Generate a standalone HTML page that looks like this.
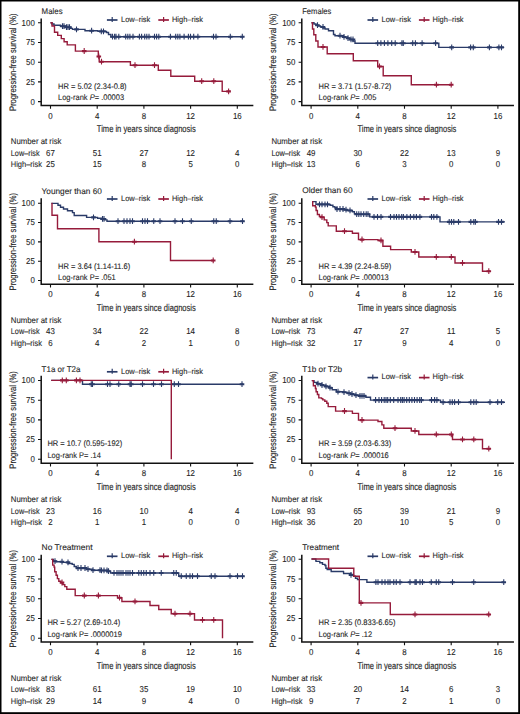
<!DOCTYPE html>
<html><head><meta charset="utf-8"><style>
html,body{margin:0;padding:0;background:#fff;}
body{width:520px;height:714px;overflow:hidden;font-family:"Liberation Sans",sans-serif;}
svg{display:block;}
</style></head><body>
<svg width="520" height="714" viewBox="0 0 520 714">
<rect x="0" y="0" width="520" height="714" fill="#000"/>
<rect x="1.5" y="1.5" width="516.7" height="710.7" fill="#fff"/>
<g font-family="Liberation Sans, sans-serif" fill="#262626" stroke="#262626" stroke-width="0.1" text-rendering="geometricPrecision">
<g><text x="41.60" y="13.80" font-size="8.3" textLength="21.0" lengthAdjust="spacingAndGlyphs">Males</text><path d="M106.90,20.00 h10.6" stroke="#2a3b68" stroke-width="1.7" fill="none"/><path d="M112.20,17.00 v5" stroke="#2a3b68" stroke-width="1.2" fill="none"/><text x="121.00" y="21.70" font-size="7.8" textLength="29.3" lengthAdjust="spacingAndGlyphs">Low–risk</text><path d="M158.30,20.00 h10.6" stroke="#961b3b" stroke-width="1.7" fill="none"/><path d="M163.60,17.00 v5" stroke="#961b3b" stroke-width="1.2" fill="none"/><text x="172.00" y="21.70" font-size="7.8" textLength="31.0" lengthAdjust="spacingAndGlyphs">High–risk</text><path d="M41.20,19.20 V105.50 H252.60" stroke="#111" stroke-width="1.5" fill="none" stroke-linejoin="miter" stroke-linecap="square"/><text x="34.80" y="104.50" font-size="8.6" text-anchor="end" textLength="4.39" lengthAdjust="spacingAndGlyphs">0</text><text x="34.80" y="84.80" font-size="8.6" text-anchor="end" textLength="8.79" lengthAdjust="spacingAndGlyphs">25</text><text x="34.80" y="65.10" font-size="8.6" text-anchor="end" textLength="8.79" lengthAdjust="spacingAndGlyphs">50</text><text x="34.80" y="45.40" font-size="8.6" text-anchor="end" textLength="8.79" lengthAdjust="spacingAndGlyphs">75</text><text x="34.80" y="25.70" font-size="8.6" text-anchor="end" textLength="13.18" lengthAdjust="spacingAndGlyphs">100</text><text x="50.50" y="118.70" font-size="8.6" text-anchor="middle" textLength="4.39" lengthAdjust="spacingAndGlyphs">0</text><text x="97.20" y="118.70" font-size="8.6" text-anchor="middle" textLength="4.39" lengthAdjust="spacingAndGlyphs">4</text><text x="143.90" y="118.70" font-size="8.6" text-anchor="middle" textLength="4.39" lengthAdjust="spacingAndGlyphs">8</text><text x="190.60" y="118.70" font-size="8.6" text-anchor="middle" textLength="8.79" lengthAdjust="spacingAndGlyphs">12</text><text x="237.30" y="118.70" font-size="8.6" text-anchor="middle" textLength="8.79" lengthAdjust="spacingAndGlyphs">16</text><path d="M38.00,101.60 H41.20 M38.00,81.90 H41.20 M38.00,62.20 H41.20 M38.00,42.50 H41.20 M38.00,22.80 H41.20 M50.50,105.50 V108.70 M97.20,105.50 V108.70 M143.90,105.50 V108.70 M190.60,105.50 V108.70 M237.30,105.50 V108.70" stroke="#111" stroke-width="1.1" fill="none"/><text transform="translate(15.60,62.35) rotate(-90)" x="0" y="0" font-size="9.4" stroke-width="0.15" text-anchor="middle" textLength="97.5" lengthAdjust="spacingAndGlyphs">Progression-free survival (%)</text><text x="146.30" y="132.40" font-size="9.8" text-anchor="middle" textLength="99.0" lengthAdjust="spacingAndGlyphs" stroke-width="0.15">Time in years since diagnosis</text><text x="58.00" y="89.20" font-size="8.1" textLength="68.57" lengthAdjust="spacingAndGlyphs">HR = 5.02 (2.34-0.8)</text><text x="58.00" y="100.20" font-size="8.1" textLength="66.09" lengthAdjust="spacingAndGlyphs">Log-rank <tspan font-style="italic">P</tspan>= .00003</text><text x="10.80" y="144.20" font-size="8.3" textLength="50.7" lengthAdjust="spacingAndGlyphs">Number at risk</text><text x="10.80" y="156.00" font-size="8.3" textLength="28.8" lengthAdjust="spacingAndGlyphs">Low–risk</text><text x="10.80" y="167.30" font-size="8.3" textLength="31.1" lengthAdjust="spacingAndGlyphs">High–risk</text><text x="50.50" y="156.00" font-size="8.6" text-anchor="middle" textLength="8.79" lengthAdjust="spacingAndGlyphs">67</text><text x="50.50" y="167.30" font-size="8.6" text-anchor="middle" textLength="8.79" lengthAdjust="spacingAndGlyphs">25</text><text x="97.20" y="156.00" font-size="8.6" text-anchor="middle" textLength="8.79" lengthAdjust="spacingAndGlyphs">51</text><text x="97.20" y="167.30" font-size="8.6" text-anchor="middle" textLength="8.79" lengthAdjust="spacingAndGlyphs">15</text><text x="143.90" y="156.00" font-size="8.6" text-anchor="middle" textLength="8.79" lengthAdjust="spacingAndGlyphs">27</text><text x="143.90" y="167.30" font-size="8.6" text-anchor="middle" textLength="4.39" lengthAdjust="spacingAndGlyphs">8</text><text x="190.60" y="156.00" font-size="8.6" text-anchor="middle" textLength="8.79" lengthAdjust="spacingAndGlyphs">12</text><text x="190.60" y="167.30" font-size="8.6" text-anchor="middle" textLength="4.39" lengthAdjust="spacingAndGlyphs">5</text><text x="237.30" y="156.00" font-size="8.6" text-anchor="middle" textLength="4.39" lengthAdjust="spacingAndGlyphs">4</text><text x="237.30" y="167.30" font-size="8.6" text-anchor="middle" textLength="4.39" lengthAdjust="spacingAndGlyphs">0</text><path d="M50.5,22.8 H52 V24 H54 V25.3 H60.5 V26.2 H65.5 V27.2 H70.5 V28.4 H72.5 V29.4 H85 V30.7 H98 V31.4 H106.5 V32.5 H108.5 V34.5 H110.9 V36.8 H243.4" stroke="#2a3b68" stroke-width="1.4" fill="none" stroke-linejoin="miter"/><path d="M62.50,23.20 v5.8 M64.00,23.20 v5.8 M66.50,24.20 v5.8 M68.00,24.20 v5.8 M69.50,24.20 v5.8 M76.50,26.40 v5.8 M91.60,27.70 v5.8 M101.30,28.40 v5.8 M103.50,28.40 v5.8 M112.50,33.80 v5.8 M114.60,33.80 v5.8 M116.00,33.80 v5.8 M118.80,33.80 v5.8 M125.70,33.80 v5.8 M127.80,33.80 v5.8 M129.90,33.80 v5.8 M133.00,33.80 v5.8 M139.40,33.80 v5.8 M141.60,33.80 v5.8 M144.70,33.80 v5.8 M146.80,33.80 v5.8 M149.00,33.80 v5.8 M154.50,33.80 v5.8 M156.60,33.80 v5.8 M158.80,33.80 v5.8 M170.40,33.80 v5.8 M175.70,33.80 v5.8 M177.80,33.80 v5.8 M179.90,33.80 v5.8 M184.10,33.80 v5.8 M188.40,33.80 v5.8 M190.50,33.80 v5.8 M193.70,33.80 v5.8 M197.90,33.80 v5.8 M213.50,33.80 v5.8 M216.00,33.80 v5.8 M230.30,33.80 v5.8 M242.30,33.80 v5.8" stroke="#2a3b68" stroke-width="1.1" fill="none"/><path d="M60.20,26.20 h4.6 M61.70,26.20 h4.6 M64.20,27.20 h4.6 M65.70,27.20 h4.6 M67.20,27.20 h4.6 M74.20,29.40 h4.6 M89.30,30.70 h4.6 M99.00,31.40 h4.6 M101.20,31.40 h4.6 M110.20,36.80 h4.6 M112.30,36.80 h4.6 M113.70,36.80 h4.6 M116.50,36.80 h4.6 M123.40,36.80 h4.6 M125.50,36.80 h4.6 M127.60,36.80 h4.6 M130.70,36.80 h4.6 M137.10,36.80 h4.6 M139.30,36.80 h4.6 M142.40,36.80 h4.6 M144.50,36.80 h4.6 M146.70,36.80 h4.6 M152.20,36.80 h4.6 M154.30,36.80 h4.6 M156.50,36.80 h4.6 M168.10,36.80 h4.6 M173.40,36.80 h4.6 M175.50,36.80 h4.6 M177.60,36.80 h4.6 M181.80,36.80 h4.6 M186.10,36.80 h4.6 M188.20,36.80 h4.6 M191.40,36.80 h4.6 M195.60,36.80 h4.6 M211.20,36.80 h4.6 M213.70,36.80 h4.6 M228.00,36.80 h4.6 M240.00,36.80 h4.6" stroke="#2a3b68" stroke-width="2.1" fill="none"/><path d="M50.5,22.8 H52 V26 H54.5 V32.3 H57.7 V35.4 H61.3 V38.6 H64.1 V41.8 H67.2 V44.9 H75.4 V51.1 H98.3 V56.5 H99.2 V61.7 H130.4 V65.2 H158.3 V70.2 H170.8 V76.2 H194.7 V81.2 H222.2 V91.4 H229.6" stroke="#961b3b" stroke-width="1.4" fill="none" stroke-linejoin="miter"/><path d="M84.20,48.10 v5.8 M98.80,53.50 v5.8 M101.50,58.70 v5.8 M135.00,62.20 v5.8 M154.50,62.20 v5.8 M201.70,78.20 v5.8 M213.80,78.20 v5.8 M228.60,88.40 v5.8" stroke="#961b3b" stroke-width="1.1" fill="none"/><path d="M81.90,51.10 h4.6 M96.50,56.50 h4.6 M99.20,61.70 h4.6 M132.70,65.20 h4.6 M152.20,65.20 h4.6 M199.40,81.20 h4.6 M211.50,81.20 h4.6 M226.30,91.40 h4.6" stroke="#961b3b" stroke-width="2.1" fill="none"/></g>
<g><text x="302.20" y="13.80" font-size="8.3" textLength="29.2" lengthAdjust="spacingAndGlyphs">Females</text><path d="M367.50,20.00 h10.6" stroke="#2a3b68" stroke-width="1.7" fill="none"/><path d="M372.80,17.00 v5" stroke="#2a3b68" stroke-width="1.2" fill="none"/><text x="381.60" y="21.70" font-size="7.8" textLength="29.3" lengthAdjust="spacingAndGlyphs">Low–risk</text><path d="M418.90,20.00 h10.6" stroke="#961b3b" stroke-width="1.7" fill="none"/><path d="M424.20,17.00 v5" stroke="#961b3b" stroke-width="1.2" fill="none"/><text x="432.60" y="21.70" font-size="7.8" textLength="31.0" lengthAdjust="spacingAndGlyphs">High–risk</text><path d="M301.80,19.20 V105.50 H513.20" stroke="#111" stroke-width="1.5" fill="none" stroke-linejoin="miter" stroke-linecap="square"/><text x="295.40" y="104.50" font-size="8.6" text-anchor="end" textLength="4.39" lengthAdjust="spacingAndGlyphs">0</text><text x="295.40" y="84.80" font-size="8.6" text-anchor="end" textLength="8.79" lengthAdjust="spacingAndGlyphs">25</text><text x="295.40" y="65.10" font-size="8.6" text-anchor="end" textLength="8.79" lengthAdjust="spacingAndGlyphs">50</text><text x="295.40" y="45.40" font-size="8.6" text-anchor="end" textLength="8.79" lengthAdjust="spacingAndGlyphs">75</text><text x="295.40" y="25.70" font-size="8.6" text-anchor="end" textLength="13.18" lengthAdjust="spacingAndGlyphs">100</text><text x="311.10" y="118.70" font-size="8.6" text-anchor="middle" textLength="4.39" lengthAdjust="spacingAndGlyphs">0</text><text x="357.80" y="118.70" font-size="8.6" text-anchor="middle" textLength="4.39" lengthAdjust="spacingAndGlyphs">4</text><text x="404.50" y="118.70" font-size="8.6" text-anchor="middle" textLength="4.39" lengthAdjust="spacingAndGlyphs">8</text><text x="451.20" y="118.70" font-size="8.6" text-anchor="middle" textLength="8.79" lengthAdjust="spacingAndGlyphs">12</text><text x="497.90" y="118.70" font-size="8.6" text-anchor="middle" textLength="8.79" lengthAdjust="spacingAndGlyphs">16</text><path d="M298.60,101.60 H301.80 M298.60,81.90 H301.80 M298.60,62.20 H301.80 M298.60,42.50 H301.80 M298.60,22.80 H301.80 M311.10,105.50 V108.70 M357.80,105.50 V108.70 M404.50,105.50 V108.70 M451.20,105.50 V108.70 M497.90,105.50 V108.70" stroke="#111" stroke-width="1.1" fill="none"/><text transform="translate(276.20,62.35) rotate(-90)" x="0" y="0" font-size="9.4" stroke-width="0.15" text-anchor="middle" textLength="97.5" lengthAdjust="spacingAndGlyphs">Progression-free survival (%)</text><text x="406.90" y="132.40" font-size="9.8" text-anchor="middle" textLength="99.0" lengthAdjust="spacingAndGlyphs" stroke-width="0.15">Time in years since diagnosis</text><text x="318.60" y="89.20" font-size="8.1" textLength="72.74" lengthAdjust="spacingAndGlyphs">HR = 3.71 (1.57-8.72)</text><text x="318.60" y="100.20" font-size="8.1" textLength="57.74" lengthAdjust="spacingAndGlyphs">Log-rank <tspan font-style="italic">P</tspan>= .005</text><text x="271.40" y="144.20" font-size="8.3" textLength="50.7" lengthAdjust="spacingAndGlyphs">Number at risk</text><text x="271.40" y="156.00" font-size="8.3" textLength="28.8" lengthAdjust="spacingAndGlyphs">Low–risk</text><text x="271.40" y="167.30" font-size="8.3" textLength="31.1" lengthAdjust="spacingAndGlyphs">High–risk</text><text x="311.10" y="156.00" font-size="8.6" text-anchor="middle" textLength="8.79" lengthAdjust="spacingAndGlyphs">49</text><text x="311.10" y="167.30" font-size="8.6" text-anchor="middle" textLength="8.79" lengthAdjust="spacingAndGlyphs">13</text><text x="357.80" y="156.00" font-size="8.6" text-anchor="middle" textLength="8.79" lengthAdjust="spacingAndGlyphs">30</text><text x="357.80" y="167.30" font-size="8.6" text-anchor="middle" textLength="4.39" lengthAdjust="spacingAndGlyphs">6</text><text x="404.50" y="156.00" font-size="8.6" text-anchor="middle" textLength="8.79" lengthAdjust="spacingAndGlyphs">22</text><text x="404.50" y="167.30" font-size="8.6" text-anchor="middle" textLength="4.39" lengthAdjust="spacingAndGlyphs">3</text><text x="451.20" y="156.00" font-size="8.6" text-anchor="middle" textLength="8.79" lengthAdjust="spacingAndGlyphs">13</text><text x="451.20" y="167.30" font-size="8.6" text-anchor="middle" textLength="4.39" lengthAdjust="spacingAndGlyphs">0</text><text x="497.90" y="156.00" font-size="8.6" text-anchor="middle" textLength="4.39" lengthAdjust="spacingAndGlyphs">9</text><text x="497.90" y="167.30" font-size="8.6" text-anchor="middle" textLength="4.39" lengthAdjust="spacingAndGlyphs">0</text><path d="M311.5,22.7 H314 V24 H316 V25.2 H318 V26 H320.5 V27 H323 V28 H325 V29 H328.5 V30.8 H333.5 V34.5 H335 V35.8 H343.5 V37 H347.5 V38.2 H350 V39.5 H353 V41 H355 V43.2 H438.8 V47.4 H504.2" stroke="#2a3b68" stroke-width="1.4" fill="none" stroke-linejoin="miter"/><path d="M317.50,22.20 v5.8 M323.00,24.00 v5.8 M340.00,32.80 v5.8 M344.00,34.00 v5.8 M348.00,35.20 v5.8 M351.00,36.50 v5.8 M353.00,36.50 v5.8 M377.70,40.20 v5.8 M380.90,40.20 v5.8 M384.40,40.20 v5.8 M387.90,40.20 v5.8 M391.70,40.20 v5.8 M395.20,40.20 v5.8 M401.90,40.20 v5.8 M403.30,40.20 v5.8 M412.70,40.20 v5.8 M415.40,40.20 v5.8 M422.10,40.20 v5.8 M435.60,40.20 v5.8 M451.70,44.40 v5.8 M470.60,44.40 v5.8 M473.30,44.40 v5.8 M489.40,44.40 v5.8 M498.90,44.40 v5.8 M501.50,44.40 v5.8" stroke="#2a3b68" stroke-width="1.1" fill="none"/><path d="M315.20,25.20 h4.6 M320.70,27.00 h4.6 M337.70,35.80 h4.6 M341.70,37.00 h4.6 M345.70,38.20 h4.6 M348.70,39.50 h4.6 M350.70,39.50 h4.6 M375.40,43.20 h4.6 M378.60,43.20 h4.6 M382.10,43.20 h4.6 M385.60,43.20 h4.6 M389.40,43.20 h4.6 M392.90,43.20 h4.6 M399.60,43.20 h4.6 M401.00,43.20 h4.6 M410.40,43.20 h4.6 M413.10,43.20 h4.6 M419.80,43.20 h4.6 M433.30,43.20 h4.6 M449.40,47.40 h4.6 M468.30,47.40 h4.6 M471.00,47.40 h4.6 M487.10,47.40 h4.6 M496.60,47.40 h4.6 M499.20,47.40 h4.6" stroke="#2a3b68" stroke-width="2.1" fill="none"/><path d="M311.5,22.7 H312.5 V29 H313.8 V34.8 H315.8 V41 H318 V47 H327.2 V53.8 H353.3 V60.8 H377.7 V66.5 H383.2 V75.8 H411.3 V84.7 H451.7" stroke="#961b3b" stroke-width="1.4" fill="none" stroke-linejoin="miter"/><path d="M323.00,44.00 v5.8 M379.50,63.50 v5.8 M436.40,81.70 v5.8 M451.20,81.70 v5.8" stroke="#961b3b" stroke-width="1.1" fill="none"/><path d="M320.70,47.00 h4.6 M377.20,66.50 h4.6 M434.10,84.70 h4.6 M448.90,84.70 h4.6" stroke="#961b3b" stroke-width="2.1" fill="none"/></g>
<g><text x="41.60" y="193.60" font-size="8.3" textLength="60.2" lengthAdjust="spacingAndGlyphs">Younger than 60</text><path d="M106.90,199.00 h10.6" stroke="#2a3b68" stroke-width="1.7" fill="none"/><path d="M112.20,196.00 v5" stroke="#2a3b68" stroke-width="1.2" fill="none"/><text x="121.00" y="200.70" font-size="7.8" textLength="29.3" lengthAdjust="spacingAndGlyphs">Low–risk</text><path d="M158.30,199.00 h10.6" stroke="#961b3b" stroke-width="1.7" fill="none"/><path d="M163.60,196.00 v5" stroke="#961b3b" stroke-width="1.2" fill="none"/><text x="172.00" y="200.70" font-size="7.8" textLength="31.0" lengthAdjust="spacingAndGlyphs">High–risk</text><path d="M41.20,199.00 V284.30 H252.60" stroke="#111" stroke-width="1.5" fill="none" stroke-linejoin="miter" stroke-linecap="square"/><text x="34.80" y="283.40" font-size="8.6" text-anchor="end" textLength="4.39" lengthAdjust="spacingAndGlyphs">0</text><text x="34.80" y="264.07" font-size="8.6" text-anchor="end" textLength="8.79" lengthAdjust="spacingAndGlyphs">25</text><text x="34.80" y="244.75" font-size="8.6" text-anchor="end" textLength="8.79" lengthAdjust="spacingAndGlyphs">50</text><text x="34.80" y="225.42" font-size="8.6" text-anchor="end" textLength="8.79" lengthAdjust="spacingAndGlyphs">75</text><text x="34.80" y="206.10" font-size="8.6" text-anchor="end" textLength="13.18" lengthAdjust="spacingAndGlyphs">100</text><text x="50.50" y="297.30" font-size="8.6" text-anchor="middle" textLength="4.39" lengthAdjust="spacingAndGlyphs">0</text><text x="97.20" y="297.30" font-size="8.6" text-anchor="middle" textLength="4.39" lengthAdjust="spacingAndGlyphs">4</text><text x="143.90" y="297.30" font-size="8.6" text-anchor="middle" textLength="4.39" lengthAdjust="spacingAndGlyphs">8</text><text x="190.60" y="297.30" font-size="8.6" text-anchor="middle" textLength="8.79" lengthAdjust="spacingAndGlyphs">12</text><text x="237.30" y="297.30" font-size="8.6" text-anchor="middle" textLength="8.79" lengthAdjust="spacingAndGlyphs">16</text><path d="M38.00,280.50 H41.20 M38.00,261.18 H41.20 M38.00,241.85 H41.20 M38.00,222.52 H41.20 M38.00,203.20 H41.20 M50.50,284.30 V287.50 M97.20,284.30 V287.50 M143.90,284.30 V287.50 M190.60,284.30 V287.50 M237.30,284.30 V287.50" stroke="#111" stroke-width="1.1" fill="none"/><text transform="translate(15.60,241.65) rotate(-90)" x="0" y="0" font-size="9.4" stroke-width="0.15" text-anchor="middle" textLength="97.5" lengthAdjust="spacingAndGlyphs">Progression-free survival (%)</text><text x="146.30" y="311.10" font-size="9.8" text-anchor="middle" textLength="99.0" lengthAdjust="spacingAndGlyphs" stroke-width="0.15">Time in years since diagnosis</text><text x="58.00" y="268.50" font-size="8.1" textLength="72.19" lengthAdjust="spacingAndGlyphs">HR = 3.64 (1.14-11.6)</text><text x="58.00" y="279.80" font-size="8.1" textLength="57.74" lengthAdjust="spacingAndGlyphs">Log-rank <tspan>P</tspan>= .051</text><text x="10.80" y="322.80" font-size="8.3" textLength="50.7" lengthAdjust="spacingAndGlyphs">Number at risk</text><text x="10.80" y="334.40" font-size="8.3" textLength="28.8" lengthAdjust="spacingAndGlyphs">Low–risk</text><text x="10.80" y="345.50" font-size="8.3" textLength="31.1" lengthAdjust="spacingAndGlyphs">High–risk</text><text x="50.50" y="334.40" font-size="8.6" text-anchor="middle" textLength="8.79" lengthAdjust="spacingAndGlyphs">43</text><text x="50.50" y="345.50" font-size="8.6" text-anchor="middle" textLength="4.39" lengthAdjust="spacingAndGlyphs">6</text><text x="97.20" y="334.40" font-size="8.6" text-anchor="middle" textLength="8.79" lengthAdjust="spacingAndGlyphs">34</text><text x="97.20" y="345.50" font-size="8.6" text-anchor="middle" textLength="4.39" lengthAdjust="spacingAndGlyphs">4</text><text x="143.90" y="334.40" font-size="8.6" text-anchor="middle" textLength="8.79" lengthAdjust="spacingAndGlyphs">22</text><text x="143.90" y="345.50" font-size="8.6" text-anchor="middle" textLength="4.39" lengthAdjust="spacingAndGlyphs">2</text><text x="190.60" y="334.40" font-size="8.6" text-anchor="middle" textLength="8.79" lengthAdjust="spacingAndGlyphs">14</text><text x="190.60" y="345.50" font-size="8.6" text-anchor="middle" textLength="4.39" lengthAdjust="spacingAndGlyphs">1</text><text x="237.30" y="334.40" font-size="8.6" text-anchor="middle" textLength="4.39" lengthAdjust="spacingAndGlyphs">8</text><text x="237.30" y="345.50" font-size="8.6" text-anchor="middle" textLength="4.39" lengthAdjust="spacingAndGlyphs">0</text><path d="M51.4,203.4 H58 V205.2 H60.5 V207.2 H63.5 V209 H67.5 V210.8 H72.5 V212.6 H74.2 V215.5 H86.6 V217.4 H97.5 V218.2 H101.5 V219 H104.5 V219.9 H107 V221.3 H243.7" stroke="#2a3b68" stroke-width="1.4" fill="none" stroke-linejoin="miter"/><path d="M93.50,214.40 v5.8 M102.50,216.00 v5.8 M104.00,216.00 v5.8 M118.00,218.30 v5.8 M124.00,218.30 v5.8 M127.00,218.30 v5.8 M130.00,218.30 v5.8 M132.50,218.30 v5.8 M142.50,218.30 v5.8 M145.00,218.30 v5.8 M147.50,218.30 v5.8 M153.75,218.30 v5.8 M160.00,218.30 v5.8 M175.00,218.30 v5.8 M182.50,218.30 v5.8 M191.25,218.30 v5.8 M213.75,218.30 v5.8 M216.25,218.30 v5.8 M230.00,218.30 v5.8 M242.50,218.30 v5.8" stroke="#2a3b68" stroke-width="1.1" fill="none"/><path d="M91.20,217.40 h4.6 M100.20,219.00 h4.6 M101.70,219.00 h4.6 M115.70,221.30 h4.6 M121.70,221.30 h4.6 M124.70,221.30 h4.6 M127.70,221.30 h4.6 M130.20,221.30 h4.6 M140.20,221.30 h4.6 M142.70,221.30 h4.6 M145.20,221.30 h4.6 M151.45,221.30 h4.6 M157.70,221.30 h4.6 M172.70,221.30 h4.6 M180.20,221.30 h4.6 M188.95,221.30 h4.6 M211.45,221.30 h4.6 M213.95,221.30 h4.6 M227.70,221.30 h4.6 M240.20,221.30 h4.6" stroke="#2a3b68" stroke-width="2.1" fill="none"/><path d="M51.4,203.4 H52 V215.2 H57.5 V228.7 H98.9 V241.7 H170.5 V260.5 H213.75" stroke="#961b3b" stroke-width="1.4" fill="none" stroke-linejoin="miter"/><path d="M134.40,238.70 v5.8 M213.20,257.50 v5.8" stroke="#961b3b" stroke-width="1.1" fill="none"/><path d="M132.10,241.70 h4.6 M210.90,260.50 h4.6" stroke="#961b3b" stroke-width="2.1" fill="none"/></g>
<g><text x="302.20" y="192.60" font-size="8.3" textLength="50.4" lengthAdjust="spacingAndGlyphs">Older than 60</text><path d="M367.50,199.00 h10.6" stroke="#2a3b68" stroke-width="1.7" fill="none"/><path d="M372.80,196.00 v5" stroke="#2a3b68" stroke-width="1.2" fill="none"/><text x="381.60" y="200.70" font-size="7.8" textLength="29.3" lengthAdjust="spacingAndGlyphs">Low–risk</text><path d="M418.90,199.00 h10.6" stroke="#961b3b" stroke-width="1.7" fill="none"/><path d="M424.20,196.00 v5" stroke="#961b3b" stroke-width="1.2" fill="none"/><text x="432.60" y="200.70" font-size="7.8" textLength="31.0" lengthAdjust="spacingAndGlyphs">High–risk</text><path d="M301.80,199.00 V284.30 H513.20" stroke="#111" stroke-width="1.5" fill="none" stroke-linejoin="miter" stroke-linecap="square"/><text x="295.40" y="283.40" font-size="8.6" text-anchor="end" textLength="4.39" lengthAdjust="spacingAndGlyphs">0</text><text x="295.40" y="264.07" font-size="8.6" text-anchor="end" textLength="8.79" lengthAdjust="spacingAndGlyphs">25</text><text x="295.40" y="244.75" font-size="8.6" text-anchor="end" textLength="8.79" lengthAdjust="spacingAndGlyphs">50</text><text x="295.40" y="225.42" font-size="8.6" text-anchor="end" textLength="8.79" lengthAdjust="spacingAndGlyphs">75</text><text x="295.40" y="206.10" font-size="8.6" text-anchor="end" textLength="13.18" lengthAdjust="spacingAndGlyphs">100</text><text x="311.10" y="297.30" font-size="8.6" text-anchor="middle" textLength="4.39" lengthAdjust="spacingAndGlyphs">0</text><text x="357.80" y="297.30" font-size="8.6" text-anchor="middle" textLength="4.39" lengthAdjust="spacingAndGlyphs">4</text><text x="404.50" y="297.30" font-size="8.6" text-anchor="middle" textLength="4.39" lengthAdjust="spacingAndGlyphs">8</text><text x="451.20" y="297.30" font-size="8.6" text-anchor="middle" textLength="8.79" lengthAdjust="spacingAndGlyphs">12</text><text x="497.90" y="297.30" font-size="8.6" text-anchor="middle" textLength="8.79" lengthAdjust="spacingAndGlyphs">16</text><path d="M298.60,280.50 H301.80 M298.60,261.18 H301.80 M298.60,241.85 H301.80 M298.60,222.52 H301.80 M298.60,203.20 H301.80 M311.10,284.30 V287.50 M357.80,284.30 V287.50 M404.50,284.30 V287.50 M451.20,284.30 V287.50 M497.90,284.30 V287.50" stroke="#111" stroke-width="1.1" fill="none"/><text transform="translate(276.20,241.65) rotate(-90)" x="0" y="0" font-size="9.4" stroke-width="0.15" text-anchor="middle" textLength="97.5" lengthAdjust="spacingAndGlyphs">Progression-free survival (%)</text><text x="406.90" y="311.10" font-size="9.8" text-anchor="middle" textLength="99.0" lengthAdjust="spacingAndGlyphs" stroke-width="0.15">Time in years since diagnosis</text><text x="318.50" y="268.50" font-size="8.1" textLength="72.74" lengthAdjust="spacingAndGlyphs">HR = 4.39 (2.24-8.59)</text><text x="318.50" y="279.80" font-size="8.1" textLength="70.26" lengthAdjust="spacingAndGlyphs">Log-rank <tspan font-style="italic">P</tspan>= .000013</text><text x="271.40" y="322.80" font-size="8.3" textLength="50.7" lengthAdjust="spacingAndGlyphs">Number at risk</text><text x="271.40" y="334.40" font-size="8.3" textLength="28.8" lengthAdjust="spacingAndGlyphs">Low–risk</text><text x="271.40" y="345.50" font-size="8.3" textLength="31.1" lengthAdjust="spacingAndGlyphs">High–risk</text><text x="311.10" y="334.40" font-size="8.6" text-anchor="middle" textLength="8.79" lengthAdjust="spacingAndGlyphs">73</text><text x="311.10" y="345.50" font-size="8.6" text-anchor="middle" textLength="8.79" lengthAdjust="spacingAndGlyphs">32</text><text x="357.80" y="334.40" font-size="8.6" text-anchor="middle" textLength="8.79" lengthAdjust="spacingAndGlyphs">47</text><text x="357.80" y="345.50" font-size="8.6" text-anchor="middle" textLength="8.79" lengthAdjust="spacingAndGlyphs">17</text><text x="404.50" y="334.40" font-size="8.6" text-anchor="middle" textLength="8.79" lengthAdjust="spacingAndGlyphs">27</text><text x="404.50" y="345.50" font-size="8.6" text-anchor="middle" textLength="4.39" lengthAdjust="spacingAndGlyphs">9</text><text x="451.20" y="334.40" font-size="8.6" text-anchor="middle" textLength="8.2" lengthAdjust="spacingAndGlyphs">11</text><text x="451.20" y="345.50" font-size="8.6" text-anchor="middle" textLength="4.39" lengthAdjust="spacingAndGlyphs">4</text><text x="497.90" y="334.40" font-size="8.6" text-anchor="middle" textLength="4.39" lengthAdjust="spacingAndGlyphs">5</text><text x="497.90" y="345.50" font-size="8.6" text-anchor="middle" textLength="4.39" lengthAdjust="spacingAndGlyphs">0</text><path d="M312,201.6 H316 V204.4 H330.2 V205.2 H332.9 V206.7 H334.9 V207.8 H336.9 V209.1 H343 V209.8 H347 V210.5 H352.4 V211.8 H354.4 V213.8 H356.5 V214.2 H369.7 V216.9 H440 V221.9 H505" stroke="#2a3b68" stroke-width="1.4" fill="none" stroke-linejoin="miter"/><path d="M319.50,201.40 v5.8 M322.00,201.40 v5.8 M325.00,201.40 v5.8 M327.50,201.40 v5.8 M337.00,206.10 v5.8 M340.00,206.10 v5.8 M343.00,206.10 v5.8 M346.00,206.80 v5.8 M350.00,207.50 v5.8 M356.70,211.20 v5.8 M358.80,211.20 v5.8 M361.00,211.20 v5.8 M363.70,211.20 v5.8 M366.20,211.20 v5.8 M368.00,211.20 v5.8 M374.00,213.90 v5.8 M377.50,213.90 v5.8 M381.00,213.90 v5.8 M390.50,213.90 v5.8 M394.00,213.90 v5.8 M396.50,213.90 v5.8 M399.00,213.90 v5.8 M401.70,213.90 v5.8 M403.40,213.90 v5.8 M406.90,213.90 v5.8 M410.40,213.90 v5.8 M413.80,213.90 v5.8 M416.40,213.90 v5.8 M419.90,213.90 v5.8 M431.50,213.90 v5.8 M433.80,213.90 v5.8 M436.90,213.90 v5.8 M449.20,218.90 v5.8 M451.50,218.90 v5.8 M453.80,218.90 v5.8 M458.50,218.90 v5.8 M470.80,218.90 v5.8 M473.80,218.90 v5.8 M475.40,218.90 v5.8 M498.50,218.90 v5.8 M501.50,218.90 v5.8" stroke="#2a3b68" stroke-width="1.1" fill="none"/><path d="M317.20,204.40 h4.6 M319.70,204.40 h4.6 M322.70,204.40 h4.6 M325.20,204.40 h4.6 M334.70,209.10 h4.6 M337.70,209.10 h4.6 M340.70,209.10 h4.6 M343.70,209.80 h4.6 M347.70,210.50 h4.6 M354.40,214.20 h4.6 M356.50,214.20 h4.6 M358.70,214.20 h4.6 M361.40,214.20 h4.6 M363.90,214.20 h4.6 M365.70,214.20 h4.6 M371.70,216.90 h4.6 M375.20,216.90 h4.6 M378.70,216.90 h4.6 M388.20,216.90 h4.6 M391.70,216.90 h4.6 M394.20,216.90 h4.6 M396.70,216.90 h4.6 M399.40,216.90 h4.6 M401.10,216.90 h4.6 M404.60,216.90 h4.6 M408.10,216.90 h4.6 M411.50,216.90 h4.6 M414.10,216.90 h4.6 M417.60,216.90 h4.6 M429.20,216.90 h4.6 M431.50,216.90 h4.6 M434.60,216.90 h4.6 M446.90,221.90 h4.6 M449.20,221.90 h4.6 M451.50,221.90 h4.6 M456.20,221.90 h4.6 M468.50,221.90 h4.6 M471.50,221.90 h4.6 M473.10,221.90 h4.6 M496.20,221.90 h4.6 M499.20,221.90 h4.6" stroke="#2a3b68" stroke-width="2.1" fill="none"/><path d="M312,201.6 H312.7 V205.7 H315.4 V207.1 H316.1 V210.5 H317.4 V214.5 H319.4 V216.5 H321.5 V217.2 H324.2 V219.9 H326.8 V222.6 H328.2 V225.9 H336.3 V231.3 H352.4 V233.3 H358.5 V239.6 H378 V240.5 H382.9 V246.3 H390.6 V249.6 H411.3 V252 H418.8 V257 H455 V263 H482.5 V271.3 H490" stroke="#961b3b" stroke-width="1.4" fill="none" stroke-linejoin="miter"/><path d="M322.00,214.20 v5.8 M344.50,228.30 v5.8 M362.00,236.60 v5.8 M381.00,237.50 v5.8 M415.00,249.00 v5.8 M436.30,254.00 v5.8 M451.30,254.00 v5.8 M462.50,260.00 v5.8 M488.80,268.30 v5.8" stroke="#961b3b" stroke-width="1.1" fill="none"/><path d="M319.70,217.20 h4.6 M342.20,231.30 h4.6 M359.70,239.60 h4.6 M378.70,240.50 h4.6 M412.70,252.00 h4.6 M434.00,257.00 h4.6 M449.00,257.00 h4.6 M460.20,263.00 h4.6 M486.50,271.30 h4.6" stroke="#961b3b" stroke-width="2.1" fill="none"/></g>
<g><text x="41.60" y="371.80" font-size="8.3" textLength="38.8" lengthAdjust="spacingAndGlyphs">T1a or T2a</text><path d="M106.90,371.80 h10.6" stroke="#2a3b68" stroke-width="1.7" fill="none"/><path d="M112.20,368.80 v5" stroke="#2a3b68" stroke-width="1.2" fill="none"/><text x="121.00" y="373.50" font-size="7.8" textLength="29.3" lengthAdjust="spacingAndGlyphs">Low–risk</text><path d="M158.30,371.80 h10.6" stroke="#961b3b" stroke-width="1.7" fill="none"/><path d="M163.60,368.80 v5" stroke="#961b3b" stroke-width="1.2" fill="none"/><text x="172.00" y="373.50" font-size="7.8" textLength="31.0" lengthAdjust="spacingAndGlyphs">High–risk</text><path d="M41.20,376.60 V463.20 H252.60" stroke="#111" stroke-width="1.5" fill="none" stroke-linejoin="miter" stroke-linecap="square"/><text x="34.80" y="462.10" font-size="8.6" text-anchor="end" textLength="4.39" lengthAdjust="spacingAndGlyphs">0</text><text x="34.80" y="442.42" font-size="8.6" text-anchor="end" textLength="8.79" lengthAdjust="spacingAndGlyphs">25</text><text x="34.80" y="422.75" font-size="8.6" text-anchor="end" textLength="8.79" lengthAdjust="spacingAndGlyphs">50</text><text x="34.80" y="403.07" font-size="8.6" text-anchor="end" textLength="8.79" lengthAdjust="spacingAndGlyphs">75</text><text x="34.80" y="383.40" font-size="8.6" text-anchor="end" textLength="13.18" lengthAdjust="spacingAndGlyphs">100</text><text x="50.50" y="476.20" font-size="8.6" text-anchor="middle" textLength="4.39" lengthAdjust="spacingAndGlyphs">0</text><text x="97.20" y="476.20" font-size="8.6" text-anchor="middle" textLength="4.39" lengthAdjust="spacingAndGlyphs">4</text><text x="143.90" y="476.20" font-size="8.6" text-anchor="middle" textLength="4.39" lengthAdjust="spacingAndGlyphs">8</text><text x="190.60" y="476.20" font-size="8.6" text-anchor="middle" textLength="8.79" lengthAdjust="spacingAndGlyphs">12</text><text x="237.30" y="476.20" font-size="8.6" text-anchor="middle" textLength="8.79" lengthAdjust="spacingAndGlyphs">16</text><path d="M38.00,459.20 H41.20 M38.00,439.52 H41.20 M38.00,419.85 H41.20 M38.00,400.18 H41.20 M38.00,380.50 H41.20 M50.50,463.20 V466.40 M97.20,463.20 V466.40 M143.90,463.20 V466.40 M190.60,463.20 V466.40 M237.30,463.20 V466.40" stroke="#111" stroke-width="1.1" fill="none"/><text transform="translate(15.60,419.90) rotate(-90)" x="0" y="0" font-size="9.4" stroke-width="0.15" text-anchor="middle" textLength="97.5" lengthAdjust="spacingAndGlyphs">Progression-free survival (%)</text><text x="146.30" y="489.90" font-size="9.8" text-anchor="middle" textLength="99.0" lengthAdjust="spacingAndGlyphs" stroke-width="0.15">Time in years since diagnosis</text><text x="47.40" y="446.40" font-size="8.1" textLength="74.83" lengthAdjust="spacingAndGlyphs">HR = 10.7 (0.595-192)</text><text x="47.40" y="457.60" font-size="8.1" textLength="53.57" lengthAdjust="spacingAndGlyphs">Log-rank <tspan>P</tspan>= .14</text><text x="10.80" y="501.70" font-size="8.3" textLength="50.7" lengthAdjust="spacingAndGlyphs">Number at risk</text><text x="10.80" y="513.50" font-size="8.3" textLength="28.8" lengthAdjust="spacingAndGlyphs">Low–risk</text><text x="10.80" y="524.80" font-size="8.3" textLength="31.1" lengthAdjust="spacingAndGlyphs">High–risk</text><text x="50.50" y="513.50" font-size="8.6" text-anchor="middle" textLength="8.79" lengthAdjust="spacingAndGlyphs">23</text><text x="50.50" y="524.80" font-size="8.6" text-anchor="middle" textLength="4.39" lengthAdjust="spacingAndGlyphs">2</text><text x="97.20" y="513.50" font-size="8.6" text-anchor="middle" textLength="8.79" lengthAdjust="spacingAndGlyphs">16</text><text x="97.20" y="524.80" font-size="8.6" text-anchor="middle" textLength="4.39" lengthAdjust="spacingAndGlyphs">1</text><text x="143.90" y="513.50" font-size="8.6" text-anchor="middle" textLength="8.79" lengthAdjust="spacingAndGlyphs">10</text><text x="143.90" y="524.80" font-size="8.6" text-anchor="middle" textLength="4.39" lengthAdjust="spacingAndGlyphs">1</text><text x="190.60" y="513.50" font-size="8.6" text-anchor="middle" textLength="4.39" lengthAdjust="spacingAndGlyphs">4</text><text x="190.60" y="524.80" font-size="8.6" text-anchor="middle" textLength="4.39" lengthAdjust="spacingAndGlyphs">0</text><text x="237.30" y="513.50" font-size="8.6" text-anchor="middle" textLength="4.39" lengthAdjust="spacingAndGlyphs">4</text><text x="237.30" y="524.80" font-size="8.6" text-anchor="middle" textLength="4.39" lengthAdjust="spacingAndGlyphs">0</text><path d="M51.2,380.4 H82.5 V384.3 H243" stroke="#2a3b68" stroke-width="1.4" fill="none" stroke-linejoin="miter"/><path d="M91.25,381.30 v5.8 M92.50,381.30 v5.8 M107.50,381.30 v5.8 M110.00,381.30 v5.8 M118.75,381.30 v5.8 M130.00,381.30 v5.8 M131.25,381.30 v5.8 M142.50,381.30 v5.8 M153.50,381.30 v5.8 M161.50,381.30 v5.8 M174.30,381.30 v5.8 M178.50,381.30 v5.8 M242.00,381.30 v5.8" stroke="#2a3b68" stroke-width="1.1" fill="none"/><path d="M88.95,384.30 h4.6 M90.20,384.30 h4.6 M105.20,384.30 h4.6 M107.70,384.30 h4.6 M116.45,384.30 h4.6 M127.70,384.30 h4.6 M128.95,384.30 h4.6 M140.20,384.30 h4.6 M151.20,384.30 h4.6 M159.20,384.30 h4.6 M172.00,384.30 h4.6 M176.20,384.30 h4.6 M239.70,384.30 h4.6" stroke="#2a3b68" stroke-width="2.1" fill="none"/><path d="M51.2,380.4 H171.3 V459.2" stroke="#961b3b" stroke-width="1.4" fill="none" stroke-linejoin="miter"/><path d="M62.30,377.40 v5.8 M66.30,377.40 v5.8 M76.40,377.40 v5.8 M80.00,377.40 v5.8" stroke="#961b3b" stroke-width="1.1" fill="none"/><path d="M60.00,380.40 h4.6 M64.00,380.40 h4.6 M74.10,380.40 h4.6 M77.70,380.40 h4.6" stroke="#961b3b" stroke-width="2.1" fill="none"/></g>
<g><text x="302.20" y="371.80" font-size="8.3" textLength="40.0" lengthAdjust="spacingAndGlyphs">T1b or T2b</text><path d="M367.50,377.60 h10.6" stroke="#2a3b68" stroke-width="1.7" fill="none"/><path d="M372.80,374.60 v5" stroke="#2a3b68" stroke-width="1.2" fill="none"/><text x="381.60" y="379.30" font-size="7.8" textLength="29.3" lengthAdjust="spacingAndGlyphs">Low–risk</text><path d="M418.90,377.60 h10.6" stroke="#961b3b" stroke-width="1.7" fill="none"/><path d="M424.20,374.60 v5" stroke="#961b3b" stroke-width="1.2" fill="none"/><text x="432.60" y="379.30" font-size="7.8" textLength="31.0" lengthAdjust="spacingAndGlyphs">High–risk</text><path d="M301.80,376.60 V463.20 H513.20" stroke="#111" stroke-width="1.5" fill="none" stroke-linejoin="miter" stroke-linecap="square"/><text x="295.40" y="462.10" font-size="8.6" text-anchor="end" textLength="4.39" lengthAdjust="spacingAndGlyphs">0</text><text x="295.40" y="442.42" font-size="8.6" text-anchor="end" textLength="8.79" lengthAdjust="spacingAndGlyphs">25</text><text x="295.40" y="422.75" font-size="8.6" text-anchor="end" textLength="8.79" lengthAdjust="spacingAndGlyphs">50</text><text x="295.40" y="403.07" font-size="8.6" text-anchor="end" textLength="8.79" lengthAdjust="spacingAndGlyphs">75</text><text x="295.40" y="383.40" font-size="8.6" text-anchor="end" textLength="13.18" lengthAdjust="spacingAndGlyphs">100</text><text x="311.10" y="476.20" font-size="8.6" text-anchor="middle" textLength="4.39" lengthAdjust="spacingAndGlyphs">0</text><text x="357.80" y="476.20" font-size="8.6" text-anchor="middle" textLength="4.39" lengthAdjust="spacingAndGlyphs">4</text><text x="404.50" y="476.20" font-size="8.6" text-anchor="middle" textLength="4.39" lengthAdjust="spacingAndGlyphs">8</text><text x="451.20" y="476.20" font-size="8.6" text-anchor="middle" textLength="8.79" lengthAdjust="spacingAndGlyphs">12</text><text x="497.90" y="476.20" font-size="8.6" text-anchor="middle" textLength="8.79" lengthAdjust="spacingAndGlyphs">16</text><path d="M298.60,459.20 H301.80 M298.60,439.52 H301.80 M298.60,419.85 H301.80 M298.60,400.18 H301.80 M298.60,380.50 H301.80 M311.10,463.20 V466.40 M357.80,463.20 V466.40 M404.50,463.20 V466.40 M451.20,463.20 V466.40 M497.90,463.20 V466.40" stroke="#111" stroke-width="1.1" fill="none"/><text transform="translate(276.20,419.90) rotate(-90)" x="0" y="0" font-size="9.4" stroke-width="0.15" text-anchor="middle" textLength="97.5" lengthAdjust="spacingAndGlyphs">Progression-free survival (%)</text><text x="406.90" y="489.90" font-size="9.8" text-anchor="middle" textLength="99.0" lengthAdjust="spacingAndGlyphs" stroke-width="0.15">Time in years since diagnosis</text><text x="318.50" y="446.40" font-size="8.1" textLength="72.74" lengthAdjust="spacingAndGlyphs">HR = 3.59 (2.03-6.33)</text><text x="318.50" y="457.60" font-size="8.1" textLength="70.26" lengthAdjust="spacingAndGlyphs">Log-rank <tspan font-style="italic">P</tspan>= .000016</text><text x="271.40" y="501.70" font-size="8.3" textLength="50.7" lengthAdjust="spacingAndGlyphs">Number at risk</text><text x="271.40" y="513.50" font-size="8.3" textLength="28.8" lengthAdjust="spacingAndGlyphs">Low–risk</text><text x="271.40" y="524.80" font-size="8.3" textLength="31.1" lengthAdjust="spacingAndGlyphs">High–risk</text><text x="311.10" y="513.50" font-size="8.6" text-anchor="middle" textLength="8.79" lengthAdjust="spacingAndGlyphs">93</text><text x="311.10" y="524.80" font-size="8.6" text-anchor="middle" textLength="8.79" lengthAdjust="spacingAndGlyphs">36</text><text x="357.80" y="513.50" font-size="8.6" text-anchor="middle" textLength="8.79" lengthAdjust="spacingAndGlyphs">65</text><text x="357.80" y="524.80" font-size="8.6" text-anchor="middle" textLength="8.79" lengthAdjust="spacingAndGlyphs">20</text><text x="404.50" y="513.50" font-size="8.6" text-anchor="middle" textLength="8.79" lengthAdjust="spacingAndGlyphs">39</text><text x="404.50" y="524.80" font-size="8.6" text-anchor="middle" textLength="8.79" lengthAdjust="spacingAndGlyphs">10</text><text x="451.20" y="513.50" font-size="8.6" text-anchor="middle" textLength="8.79" lengthAdjust="spacingAndGlyphs">21</text><text x="451.20" y="524.80" font-size="8.6" text-anchor="middle" textLength="4.39" lengthAdjust="spacingAndGlyphs">5</text><text x="497.90" y="513.50" font-size="8.6" text-anchor="middle" textLength="4.39" lengthAdjust="spacingAndGlyphs">9</text><text x="497.90" y="524.80" font-size="8.6" text-anchor="middle" textLength="4.39" lengthAdjust="spacingAndGlyphs">0</text><path d="M311.8,380.6 H314 V382.4 H317.4 V383.7 H321.5 V385.1 H325.5 V386.4 H329.5 V387.8 H332.2 V389.8 H336.3 V391.8 H343 V392.2 H347 V393.2 H351 V394.1 H355.1 V395.2 H359.1 V395.9 H365.9 V397.2 H370.5 V400.1 H440.5 V402.3 H505" stroke="#2a3b68" stroke-width="1.4" fill="none" stroke-linejoin="miter"/><path d="M318.00,380.70 v5.8 M322.00,382.10 v5.8 M326.00,383.40 v5.8 M330.00,384.80 v5.8 M338.00,388.80 v5.8 M344.00,389.20 v5.8 M349.00,390.20 v5.8 M352.00,391.10 v5.8 M356.00,392.20 v5.8 M360.00,392.90 v5.8 M362.00,392.90 v5.8 M364.00,392.90 v5.8 M375.60,397.10 v5.8 M379.00,397.10 v5.8 M381.60,397.10 v5.8 M384.20,397.10 v5.8 M386.00,397.10 v5.8 M387.70,397.10 v5.8 M390.30,397.10 v5.8 M393.70,397.10 v5.8 M398.00,397.10 v5.8 M400.70,397.10 v5.8 M402.40,397.10 v5.8 M404.10,397.10 v5.8 M406.70,397.10 v5.8 M409.30,397.10 v5.8 M411.90,397.10 v5.8 M414.50,397.10 v5.8 M417.10,397.10 v5.8 M419.70,397.10 v5.8 M421.40,397.10 v5.8 M431.50,397.10 v5.8 M434.60,397.10 v5.8 M436.90,397.10 v5.8 M443.10,399.30 v5.8 M450.00,399.30 v5.8 M452.30,399.30 v5.8 M454.60,399.30 v5.8 M458.50,399.30 v5.8 M470.80,399.30 v5.8 M473.80,399.30 v5.8 M476.20,399.30 v5.8 M490.00,399.30 v5.8 M497.70,399.30 v5.8 M501.50,399.30 v5.8" stroke="#2a3b68" stroke-width="1.1" fill="none"/><path d="M315.70,383.70 h4.6 M319.70,385.10 h4.6 M323.70,386.40 h4.6 M327.70,387.80 h4.6 M335.70,391.80 h4.6 M341.70,392.20 h4.6 M346.70,393.20 h4.6 M349.70,394.10 h4.6 M353.70,395.20 h4.6 M357.70,395.90 h4.6 M359.70,395.90 h4.6 M361.70,395.90 h4.6 M373.30,400.10 h4.6 M376.70,400.10 h4.6 M379.30,400.10 h4.6 M381.90,400.10 h4.6 M383.70,400.10 h4.6 M385.40,400.10 h4.6 M388.00,400.10 h4.6 M391.40,400.10 h4.6 M395.70,400.10 h4.6 M398.40,400.10 h4.6 M400.10,400.10 h4.6 M401.80,400.10 h4.6 M404.40,400.10 h4.6 M407.00,400.10 h4.6 M409.60,400.10 h4.6 M412.20,400.10 h4.6 M414.80,400.10 h4.6 M417.40,400.10 h4.6 M419.10,400.10 h4.6 M429.20,400.10 h4.6 M432.30,400.10 h4.6 M434.60,400.10 h4.6 M440.80,402.30 h4.6 M447.70,402.30 h4.6 M450.00,402.30 h4.6 M452.30,402.30 h4.6 M456.20,402.30 h4.6 M468.50,402.30 h4.6 M471.50,402.30 h4.6 M473.90,402.30 h4.6 M487.70,402.30 h4.6 M495.40,402.30 h4.6 M499.20,402.30 h4.6" stroke="#2a3b68" stroke-width="2.1" fill="none"/><path d="M311.8,380.6 H313.4 V385.8 H315.4 V388.5 H316.1 V391.8 H317.4 V394.5 H318.8 V397.9 H321.5 V398.6 H322.8 V399.9 H324.8 V401.2 H326.8 V403.3 H328.2 V406.6 H335.6 V411.1 H352.4 V413.4 H358.5 V420.1 H378 V421.5 H381.9 V424.9 H383.8 V428.2 H411.3 V431 H418.8 V434.5 H452.5 V439.5 H482.5 V448.8 H490" stroke="#961b3b" stroke-width="1.4" fill="none" stroke-linejoin="miter"/><path d="M344.50,408.10 v5.8 M362.00,417.10 v5.8 M395.00,425.20 v5.8 M415.00,428.00 v5.8 M436.30,431.50 v5.8 M451.30,431.50 v5.8 M462.50,436.50 v5.8 M473.80,436.50 v5.8 M488.80,445.80 v5.8" stroke="#961b3b" stroke-width="1.1" fill="none"/><path d="M342.20,411.10 h4.6 M359.70,420.10 h4.6 M392.70,428.20 h4.6 M412.70,431.00 h4.6 M434.00,434.50 h4.6 M449.00,434.50 h4.6 M460.20,439.50 h4.6 M471.50,439.50 h4.6 M486.50,448.80 h4.6" stroke="#961b3b" stroke-width="2.1" fill="none"/></g>
<g><text x="41.60" y="550.20" font-size="8.3" textLength="50.9" lengthAdjust="spacingAndGlyphs">No Treatment</text><path d="M106.90,556.30 h10.6" stroke="#2a3b68" stroke-width="1.7" fill="none"/><path d="M112.20,553.30 v5" stroke="#2a3b68" stroke-width="1.2" fill="none"/><text x="121.00" y="558.00" font-size="7.8" textLength="29.3" lengthAdjust="spacingAndGlyphs">Low–risk</text><path d="M158.30,556.30 h10.6" stroke="#961b3b" stroke-width="1.7" fill="none"/><path d="M163.60,553.30 v5" stroke="#961b3b" stroke-width="1.2" fill="none"/><text x="172.00" y="558.00" font-size="7.8" textLength="31.0" lengthAdjust="spacingAndGlyphs">High–risk</text><path d="M41.20,555.50 V642.00 H252.60" stroke="#111" stroke-width="1.5" fill="none" stroke-linejoin="miter" stroke-linecap="square"/><text x="34.80" y="641.10" font-size="8.6" text-anchor="end" textLength="4.39" lengthAdjust="spacingAndGlyphs">0</text><text x="34.80" y="621.35" font-size="8.6" text-anchor="end" textLength="8.79" lengthAdjust="spacingAndGlyphs">25</text><text x="34.80" y="601.60" font-size="8.6" text-anchor="end" textLength="8.79" lengthAdjust="spacingAndGlyphs">50</text><text x="34.80" y="581.85" font-size="8.6" text-anchor="end" textLength="8.79" lengthAdjust="spacingAndGlyphs">75</text><text x="34.80" y="562.10" font-size="8.6" text-anchor="end" textLength="13.18" lengthAdjust="spacingAndGlyphs">100</text><text x="50.50" y="655.00" font-size="8.6" text-anchor="middle" textLength="4.39" lengthAdjust="spacingAndGlyphs">0</text><text x="97.20" y="655.00" font-size="8.6" text-anchor="middle" textLength="4.39" lengthAdjust="spacingAndGlyphs">4</text><text x="143.90" y="655.00" font-size="8.6" text-anchor="middle" textLength="4.39" lengthAdjust="spacingAndGlyphs">8</text><text x="190.60" y="655.00" font-size="8.6" text-anchor="middle" textLength="8.79" lengthAdjust="spacingAndGlyphs">12</text><text x="237.30" y="655.00" font-size="8.6" text-anchor="middle" textLength="8.79" lengthAdjust="spacingAndGlyphs">16</text><path d="M38.00,638.20 H41.20 M38.00,618.45 H41.20 M38.00,598.70 H41.20 M38.00,578.95 H41.20 M38.00,559.20 H41.20 M50.50,642.00 V645.20 M97.20,642.00 V645.20 M143.90,642.00 V645.20 M190.60,642.00 V645.20 M237.30,642.00 V645.20" stroke="#111" stroke-width="1.1" fill="none"/><text transform="translate(15.60,598.75) rotate(-90)" x="0" y="0" font-size="9.4" stroke-width="0.15" text-anchor="middle" textLength="97.5" lengthAdjust="spacingAndGlyphs">Progression-free survival (%)</text><text x="146.30" y="668.70" font-size="9.8" text-anchor="middle" textLength="99.0" lengthAdjust="spacingAndGlyphs" stroke-width="0.15">Time in years since diagnosis</text><text x="47.40" y="625.30" font-size="8.1" textLength="72.74" lengthAdjust="spacingAndGlyphs">HR = 5.27 (2.69-10.4)</text><text x="47.40" y="636.50" font-size="8.1" textLength="74.43" lengthAdjust="spacingAndGlyphs">Log-rank <tspan>P</tspan>= .0000019</text><text x="10.80" y="680.50" font-size="8.3" textLength="50.7" lengthAdjust="spacingAndGlyphs">Number at risk</text><text x="10.80" y="692.30" font-size="8.3" textLength="28.8" lengthAdjust="spacingAndGlyphs">Low–risk</text><text x="10.80" y="703.50" font-size="8.3" textLength="31.1" lengthAdjust="spacingAndGlyphs">High–risk</text><text x="50.50" y="692.30" font-size="8.6" text-anchor="middle" textLength="8.79" lengthAdjust="spacingAndGlyphs">83</text><text x="50.50" y="703.50" font-size="8.6" text-anchor="middle" textLength="8.79" lengthAdjust="spacingAndGlyphs">29</text><text x="97.20" y="692.30" font-size="8.6" text-anchor="middle" textLength="8.79" lengthAdjust="spacingAndGlyphs">61</text><text x="97.20" y="703.50" font-size="8.6" text-anchor="middle" textLength="8.79" lengthAdjust="spacingAndGlyphs">14</text><text x="143.90" y="692.30" font-size="8.6" text-anchor="middle" textLength="8.79" lengthAdjust="spacingAndGlyphs">35</text><text x="143.90" y="703.50" font-size="8.6" text-anchor="middle" textLength="4.39" lengthAdjust="spacingAndGlyphs">9</text><text x="190.60" y="692.30" font-size="8.6" text-anchor="middle" textLength="8.79" lengthAdjust="spacingAndGlyphs">19</text><text x="190.60" y="703.50" font-size="8.6" text-anchor="middle" textLength="4.39" lengthAdjust="spacingAndGlyphs">4</text><text x="237.30" y="692.30" font-size="8.6" text-anchor="middle" textLength="8.79" lengthAdjust="spacingAndGlyphs">10</text><text x="237.30" y="703.50" font-size="8.6" text-anchor="middle" textLength="4.39" lengthAdjust="spacingAndGlyphs">0</text><path d="M51.4,559.4 H53.4 V561.3 H56.1 V561.7 H62.8 V562.4 H68.2 V563.5 H72.2 V564.4 H74.2 V566.5 H76.3 V568.1 H86.5 V569.2 H92.4 V570.2 H100.5 V570.5 H107.2 V571.2 H110.6 V573 H178.75 V576.25 H243.75" stroke="#2a3b68" stroke-width="1.4" fill="none" stroke-linejoin="miter"/><path d="M55.00,558.30 v5.8 M62.00,558.70 v5.8 M68.00,559.40 v5.8 M78.00,565.10 v5.8 M81.00,565.10 v5.8 M85.00,565.10 v5.8 M88.00,566.20 v5.8 M93.00,567.20 v5.8 M100.00,567.20 v5.8 M101.50,567.50 v5.8 M104.00,567.50 v5.8 M107.00,567.50 v5.8 M108.50,568.20 v5.8 M114.00,570.00 v5.8 M117.00,570.00 v5.8 M119.00,570.00 v5.8 M121.00,570.00 v5.8 M123.00,570.00 v5.8 M126.00,570.00 v5.8 M128.00,570.00 v5.8 M130.00,570.00 v5.8 M132.50,570.00 v5.8 M138.75,570.00 v5.8 M141.25,570.00 v5.8 M143.75,570.00 v5.8 M146.25,570.00 v5.8 M150.00,570.00 v5.8 M153.75,570.00 v5.8 M161.25,570.00 v5.8 M173.75,570.00 v5.8 M176.25,570.00 v5.8 M181.25,573.25 v5.8 M186.25,573.25 v5.8 M190.00,573.25 v5.8 M192.50,573.25 v5.8 M197.50,573.25 v5.8 M211.25,573.25 v5.8 M215.00,573.25 v5.8 M230.00,573.25 v5.8 M237.50,573.25 v5.8 M242.50,573.25 v5.8" stroke="#2a3b68" stroke-width="1.1" fill="none"/><path d="M52.70,561.30 h4.6 M59.70,561.70 h4.6 M65.70,562.40 h4.6 M75.70,568.10 h4.6 M78.70,568.10 h4.6 M82.70,568.10 h4.6 M85.70,569.20 h4.6 M90.70,570.20 h4.6 M97.70,570.20 h4.6 M99.20,570.50 h4.6 M101.70,570.50 h4.6 M104.70,570.50 h4.6 M106.20,571.20 h4.6 M111.70,573.00 h4.6 M114.70,573.00 h4.6 M116.70,573.00 h4.6 M118.70,573.00 h4.6 M120.70,573.00 h4.6 M123.70,573.00 h4.6 M125.70,573.00 h4.6 M127.70,573.00 h4.6 M130.20,573.00 h4.6 M136.45,573.00 h4.6 M138.95,573.00 h4.6 M141.45,573.00 h4.6 M143.95,573.00 h4.6 M147.70,573.00 h4.6 M151.45,573.00 h4.6 M158.95,573.00 h4.6 M171.45,573.00 h4.6 M173.95,573.00 h4.6 M178.95,576.25 h4.6 M183.95,576.25 h4.6 M187.70,576.25 h4.6 M190.20,576.25 h4.6 M195.20,576.25 h4.6 M208.95,576.25 h4.6 M212.70,576.25 h4.6 M227.70,576.25 h4.6 M235.20,576.25 h4.6 M240.20,576.25 h4.6" stroke="#2a3b68" stroke-width="2.1" fill="none"/><path d="M51.4,559.4 H52.7 V565.1 H54.1 V567.1 H54.7 V571.8 H56.1 V575.2 H57.4 V578.6 H58.8 V581.3 H60.8 V582.6 H62.8 V584.6 H64.8 V586.6 H66.8 V589.3 H75.2 V595.6 H117.5 V597.7 H121.9 V601.5 H150 V605.5 H158.75 V609.5 H171.25 V613.75 H194.5 V620 H222.5 V638.2" stroke="#961b3b" stroke-width="1.4" fill="none" stroke-linejoin="miter"/><path d="M62.00,579.60 v5.8 M84.30,592.60 v5.8 M98.40,592.60 v5.8 M119.50,594.70 v5.8 M135.00,598.50 v5.8 M175.00,610.75 v5.8 M190.00,610.75 v5.8 M202.50,617.00 v5.8 M213.75,617.00 v5.8" stroke="#961b3b" stroke-width="1.1" fill="none"/><path d="M59.70,582.60 h4.6 M82.00,595.60 h4.6 M96.10,595.60 h4.6 M117.20,597.70 h4.6 M132.70,601.50 h4.6 M172.70,613.75 h4.6 M187.70,613.75 h4.6 M200.20,620.00 h4.6 M211.45,620.00 h4.6" stroke="#961b3b" stroke-width="2.1" fill="none"/></g>
<g><text x="302.20" y="550.20" font-size="8.3" textLength="36.9" lengthAdjust="spacingAndGlyphs">Treatment</text><path d="M367.50,556.30 h10.6" stroke="#2a3b68" stroke-width="1.7" fill="none"/><path d="M372.80,553.30 v5" stroke="#2a3b68" stroke-width="1.2" fill="none"/><text x="381.60" y="558.00" font-size="7.8" textLength="29.3" lengthAdjust="spacingAndGlyphs">Low–risk</text><path d="M418.90,556.30 h10.6" stroke="#961b3b" stroke-width="1.7" fill="none"/><path d="M424.20,553.30 v5" stroke="#961b3b" stroke-width="1.2" fill="none"/><text x="432.60" y="558.00" font-size="7.8" textLength="31.0" lengthAdjust="spacingAndGlyphs">High–risk</text><path d="M301.80,555.50 V642.00 H513.20" stroke="#111" stroke-width="1.5" fill="none" stroke-linejoin="miter" stroke-linecap="square"/><text x="295.40" y="641.10" font-size="8.6" text-anchor="end" textLength="4.39" lengthAdjust="spacingAndGlyphs">0</text><text x="295.40" y="621.35" font-size="8.6" text-anchor="end" textLength="8.79" lengthAdjust="spacingAndGlyphs">25</text><text x="295.40" y="601.60" font-size="8.6" text-anchor="end" textLength="8.79" lengthAdjust="spacingAndGlyphs">50</text><text x="295.40" y="581.85" font-size="8.6" text-anchor="end" textLength="8.79" lengthAdjust="spacingAndGlyphs">75</text><text x="295.40" y="562.10" font-size="8.6" text-anchor="end" textLength="13.18" lengthAdjust="spacingAndGlyphs">100</text><text x="311.10" y="655.00" font-size="8.6" text-anchor="middle" textLength="4.39" lengthAdjust="spacingAndGlyphs">0</text><text x="357.80" y="655.00" font-size="8.6" text-anchor="middle" textLength="4.39" lengthAdjust="spacingAndGlyphs">4</text><text x="404.50" y="655.00" font-size="8.6" text-anchor="middle" textLength="4.39" lengthAdjust="spacingAndGlyphs">8</text><text x="451.20" y="655.00" font-size="8.6" text-anchor="middle" textLength="8.79" lengthAdjust="spacingAndGlyphs">12</text><text x="497.90" y="655.00" font-size="8.6" text-anchor="middle" textLength="8.79" lengthAdjust="spacingAndGlyphs">16</text><path d="M298.60,638.20 H301.80 M298.60,618.45 H301.80 M298.60,598.70 H301.80 M298.60,578.95 H301.80 M298.60,559.20 H301.80 M311.10,642.00 V645.20 M357.80,642.00 V645.20 M404.50,642.00 V645.20 M451.20,642.00 V645.20 M497.90,642.00 V645.20" stroke="#111" stroke-width="1.1" fill="none"/><text transform="translate(276.20,598.75) rotate(-90)" x="0" y="0" font-size="9.4" stroke-width="0.15" text-anchor="middle" textLength="97.5" lengthAdjust="spacingAndGlyphs">Progression-free survival (%)</text><text x="406.90" y="668.70" font-size="9.8" text-anchor="middle" textLength="99.0" lengthAdjust="spacingAndGlyphs" stroke-width="0.15">Time in years since diagnosis</text><text x="318.50" y="625.30" font-size="8.1" textLength="76.91" lengthAdjust="spacingAndGlyphs">HR = 2.35 (0.833-6.65)</text><text x="318.50" y="636.50" font-size="8.1" textLength="53.57" lengthAdjust="spacingAndGlyphs">Log-rank <tspan font-style="italic">P</tspan>= .12</text><text x="271.40" y="680.50" font-size="8.3" textLength="50.7" lengthAdjust="spacingAndGlyphs">Number at risk</text><text x="271.40" y="692.30" font-size="8.3" textLength="28.8" lengthAdjust="spacingAndGlyphs">Low–risk</text><text x="271.40" y="703.50" font-size="8.3" textLength="31.1" lengthAdjust="spacingAndGlyphs">High–risk</text><text x="311.10" y="692.30" font-size="8.6" text-anchor="middle" textLength="8.79" lengthAdjust="spacingAndGlyphs">33</text><text x="311.10" y="703.50" font-size="8.6" text-anchor="middle" textLength="4.39" lengthAdjust="spacingAndGlyphs">9</text><text x="357.80" y="692.30" font-size="8.6" text-anchor="middle" textLength="8.79" lengthAdjust="spacingAndGlyphs">20</text><text x="357.80" y="703.50" font-size="8.6" text-anchor="middle" textLength="4.39" lengthAdjust="spacingAndGlyphs">7</text><text x="404.50" y="692.30" font-size="8.6" text-anchor="middle" textLength="8.79" lengthAdjust="spacingAndGlyphs">14</text><text x="404.50" y="703.50" font-size="8.6" text-anchor="middle" textLength="4.39" lengthAdjust="spacingAndGlyphs">2</text><text x="451.20" y="692.30" font-size="8.6" text-anchor="middle" textLength="4.39" lengthAdjust="spacingAndGlyphs">6</text><text x="451.20" y="703.50" font-size="8.6" text-anchor="middle" textLength="4.39" lengthAdjust="spacingAndGlyphs">1</text><text x="497.90" y="692.30" font-size="8.6" text-anchor="middle" textLength="4.39" lengthAdjust="spacingAndGlyphs">3</text><text x="497.90" y="703.50" font-size="8.6" text-anchor="middle" textLength="4.39" lengthAdjust="spacingAndGlyphs">0</text><path d="M311.5,559 H315.8 V560.1 H316 V561.4 H319.8 V562.8 H322.5 V564.4 H325 V565.5 H325.9 V568.2 H327.2 V569.5 H331.2 V571.5 H343.4 V571.9 H343.6 V573.5 H350.8 V574.9 H353.5 V576.2 H355.5 V578.2 H357.5 V579.6 H366.9 V582.2 H503.75" stroke="#2a3b68" stroke-width="1.4" fill="none" stroke-linejoin="miter"/><path d="M351.00,571.90 v5.8 M375.90,579.20 v5.8 M378.00,579.20 v5.8 M382.00,579.20 v5.8 M385.00,579.20 v5.8 M388.00,579.20 v5.8 M390.00,579.20 v5.8 M393.75,579.20 v5.8 M396.25,579.20 v5.8 M400.00,579.20 v5.8 M410.00,579.20 v5.8 M415.00,579.20 v5.8 M416.25,579.20 v5.8 M420.00,579.20 v5.8 M422.50,579.20 v5.8 M431.25,579.20 v5.8 M436.25,579.20 v5.8 M438.75,579.20 v5.8 M452.50,579.20 v5.8 M473.75,579.20 v5.8 M503.75,579.20 v5.8" stroke="#2a3b68" stroke-width="1.1" fill="none"/><path d="M348.70,574.90 h4.6 M373.60,582.20 h4.6 M375.70,582.20 h4.6 M379.70,582.20 h4.6 M382.70,582.20 h4.6 M385.70,582.20 h4.6 M387.70,582.20 h4.6 M391.45,582.20 h4.6 M393.95,582.20 h4.6 M397.70,582.20 h4.6 M407.70,582.20 h4.6 M412.70,582.20 h4.6 M413.95,582.20 h4.6 M417.70,582.20 h4.6 M420.20,582.20 h4.6 M428.95,582.20 h4.6 M433.95,582.20 h4.6 M436.45,582.20 h4.6 M450.20,582.20 h4.6 M471.45,582.20 h4.6 M501.45,582.20 h4.6" stroke="#2a3b68" stroke-width="2.1" fill="none"/><path d="M311.5,559 H328.6 V568.2 H353.8 V576.2 H359.3 V602.9 H390.3 V614.5 H490" stroke="#961b3b" stroke-width="1.4" fill="none" stroke-linejoin="miter"/><path d="M361.00,599.90 v5.8 M415.00,611.50 v5.8 M488.75,611.50 v5.8" stroke="#961b3b" stroke-width="1.1" fill="none"/><path d="M358.70,602.90 h4.6 M412.70,614.50 h4.6 M486.45,614.50 h4.6" stroke="#961b3b" stroke-width="2.1" fill="none"/></g>
</g></svg>
</body></html>
